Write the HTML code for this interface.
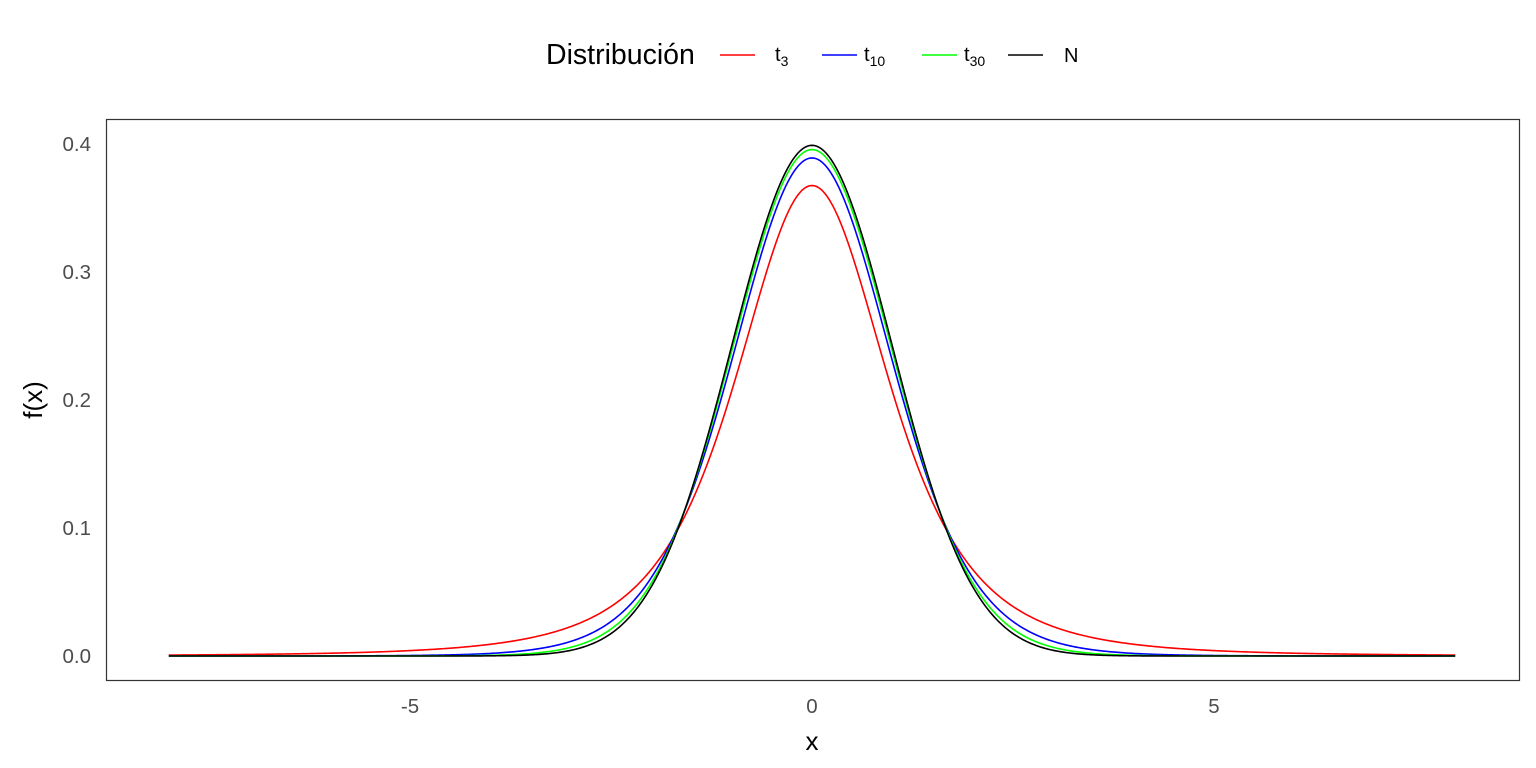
<!DOCTYPE html>
<html><head><meta charset="utf-8"><style>
body{margin:0;background:#fff;}
svg{display:block;font-family:"Liberation Sans",Arial,sans-serif;}
</style></head><body>
<svg id="s" width="1536" height="768" xmlns="http://www.w3.org/2000/svg">
<rect width="1536" height="768" fill="#fff"/>
<rect x="106.5" y="119.5" width="1413" height="561" fill="none" stroke="#333" stroke-width="1.2"/>
<g font-size="20.5" fill="#4d4d4d" text-anchor="end">
<text x="91" y="663">0.0</text>
<text x="91" y="535">0.1</text>
<text x="91" y="407">0.2</text>
<text x="91" y="279">0.3</text>
<text x="91" y="151">0.4</text>
</g>
<g font-size="20.5" fill="#4d4d4d" text-anchor="middle">
<text x="410" y="713">-5</text>
<text x="812" y="713">0</text>
<text x="1214" y="713">5</text>
</g>
<text x="812" y="750" font-size="26" text-anchor="middle" fill="#000">x</text>
<text transform="translate(42,400) rotate(-90)" font-size="26" text-anchor="middle" fill="#000">f(x)</text>
<text x="546" y="64" font-size="28.5" fill="#000">Distribución</text>
<line x1="720" y1="55" x2="755" y2="55" stroke="#f00" stroke-width="1.6"/>
<text x="775" y="61" font-size="20">t<tspan font-size="14" dy="5">3</tspan></text>
<line x1="822" y1="55" x2="857" y2="55" stroke="#00f" stroke-width="1.6"/>
<text x="864" y="61" font-size="20">t<tspan font-size="14" dy="5">10</tspan></text>
<line x1="922" y1="55" x2="957" y2="55" stroke="#0f0" stroke-width="1.6"/>
<text x="964" y="61" font-size="20">t<tspan font-size="14" dy="5">30</tspan></text>
<line x1="1008" y1="55" x2="1043" y2="55" stroke="#000" stroke-width="1.6"/>
<text x="1064" y="62" font-size="20">N</text>
<g id="curves" fill="none" stroke-width="1.6"></g>
</svg>
<script>
function t(n,c){return function(x){return c*Math.pow(1+x*x/n,-(n+1)/2);};}
var fs=[[t(3,0.367553),"#f00"],[t(10,0.389108),"#00f"],[t(30,0.395632),"#0f0"],[function(x){return 0.398942*Math.exp(-x*x/2);},"#000"]];
var g=document.getElementById("curves"),h="";
fs.forEach(function(f){var d="";for(var i=0;i<=800;i++){var x=-8+16*i/800;var px=812+80.4*x,py=656-1280*f[0](x);d+=(i?"L":"M")+px.toFixed(2)+","+py.toFixed(2);}
h+='<path d="'+d+'" stroke="'+f[1]+'"/>';});
g.innerHTML=h;
</script>
</body></html>
